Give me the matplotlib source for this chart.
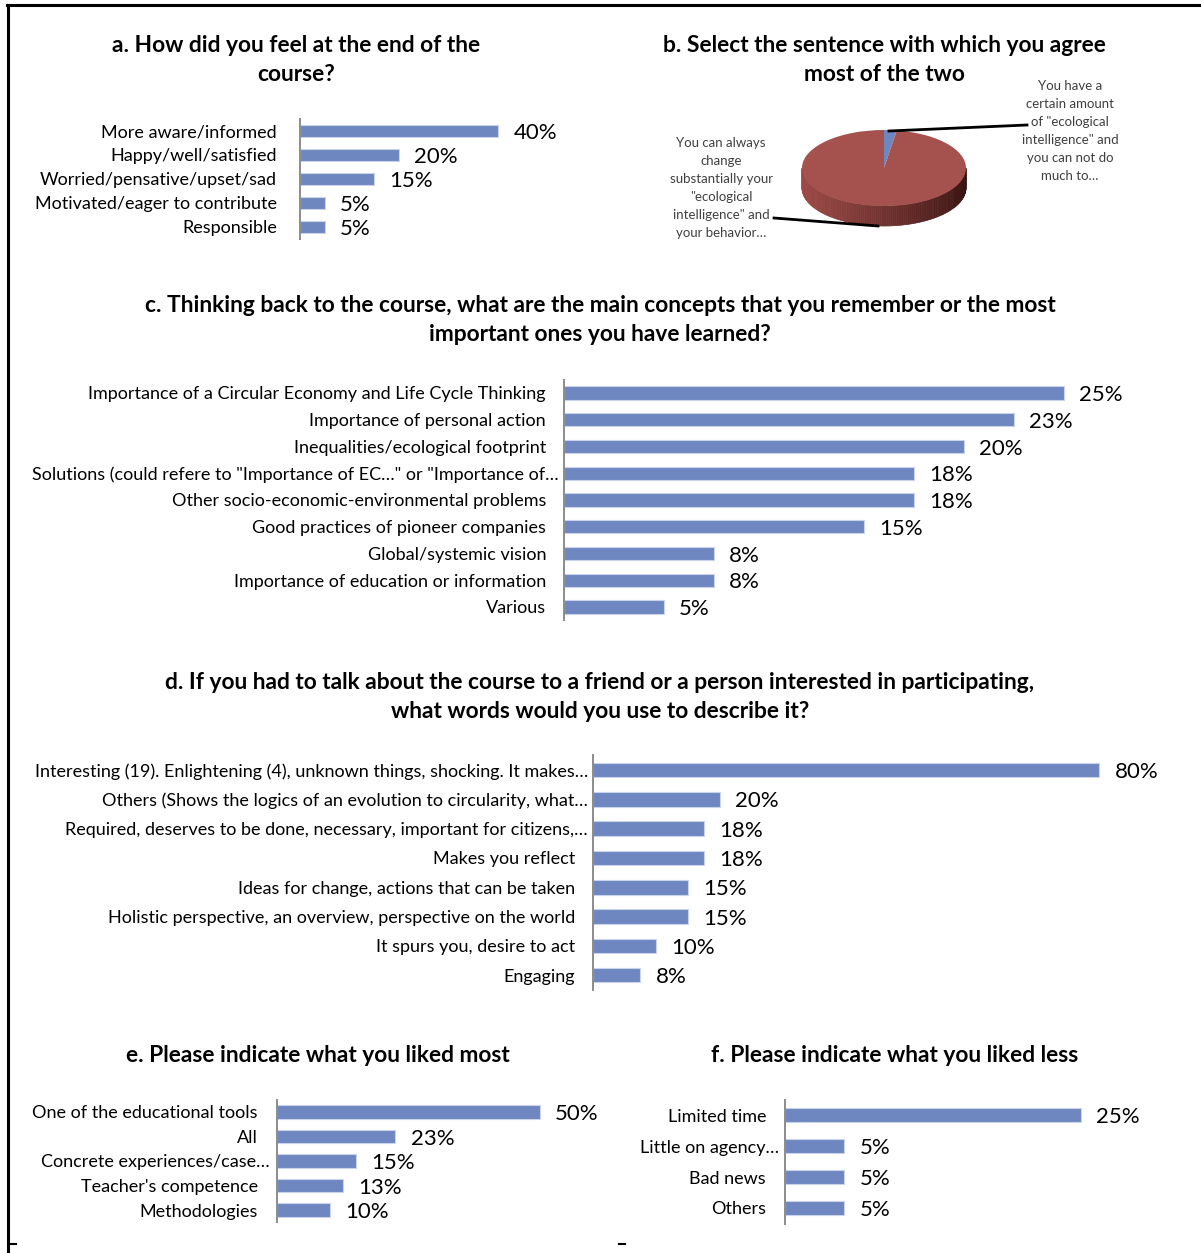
import numpy as np
import matplotlib
matplotlib.use("Agg")
import matplotlib.pyplot as plt
from matplotlib.transforms import Affine2D
from matplotlib.patches import Polygon
from matplotlib.lines import Line2D

W, H = 1201, 1253
plt.rcParams['font.family'] = ['Lato', 'DejaVu Sans']

BLUE = '#6f87c0'
EDGE = '#c9d3ec'
RED = '#a5524f'
AXIS = '#8c8c8c'

# --- a. feelings at the end of the course ---
feel_cats = ['More aware/informed', 'Happy/well/satisfied', 'Worried/pensative/upset/sad',
             'Motivated/eager to contribute', 'Responsible']
feel_vals = [40, 20, 15, 5, 5]
feel_labels = ['40%', '20%', '15%', '5%', '5%']

# --- b. sentence agreement (pie) ---
agree_cats = ['You have a\ncertain amount\nof "ecological\nintelligence" and\nyou can not do\nmuch to…',
              'You can always\nchange\nsubstantially your\n"ecological\nintelligence" and\nyour behavior…']
agree_vals = [2.5, 97.5]

# --- c. main concepts remembered ---
concept_cats = ['Importance of a Circular Economy and Life Cycle Thinking',
                'Importance of personal action',
                'Inequalities/ecological footprint',
                'Solutions (could refere to "Importance of EC…" or "Importance of…',
                'Other socio-economic-environmental problems',
                'Good practices of pioneer companies',
                'Global/systemic vision',
                'Importance of education or information',
                'Various']
concept_vals = [25, 22.5, 20, 17.5, 17.5, 15, 7.5, 7.5, 5]
concept_labels = ['25%', '23%', '20%', '18%', '18%', '15%', '8%', '8%', '5%']

# --- d. words to describe the course ---
words_cats = ['Interesting (19). Enlightening (4), unknown things, shocking. It makes…',
              'Others (Shows the logics of an evolution to circularity, what…',
              'Required, deserves to be done, necessary, important for citizens,…',
              'Makes you reflect',
              'Ideas for change, actions that can be taken',
              'Holistic perspective, an overview, perspective on the world',
              'It spurs you, desire to act',
              'Engaging']
words_vals = [80, 20, 17.5, 17.5, 15, 15, 10, 7.5]
words_labels = ['80%', '20%', '18%', '18%', '15%', '15%', '10%', '8%']

# --- e. liked most ---
most_cats = ['One of the educational tools', 'All', 'Concrete experiences/case…',
             "Teacher's competence", 'Methodologies']
most_vals = [50, 22.5, 15, 12.5, 10]
most_labels = ['50%', '23%', '15%', '13%', '10%']

# --- f. liked less ---
less_cats = ['Limited time', 'Little on agency…', 'Bad news', 'Others']
less_vals = [25, 5, 5, 5]
less_labels = ['25%', '5%', '5%', '5%']

fig = plt.figure(figsize=(W / 100, H / 100), dpi=100)


def px_axes(x0, y0, x1, y1):
    return fig.add_axes([x0 / W, 1 - y1 / H, (x1 - x0) / W, (y1 - y0) / H])


def title(x, y, s, size=16.4):
    fig.text(x / W, 1 - y / H, s, ha='center', va='center', fontsize=size,
             fontweight='bold', linespacing=1.5)


def bar_panel(cats, vals, labels, x0, top, step, x1, ppu, bar_frac=0.5,
              pad=17, short_pad=None, cat_fs=13, val_fs=16):
    n = len(cats)
    ax = px_axes(x0, top, x1, top + n * step)
    y = np.arange(n)
    ax.barh(y, vals, height=bar_frac, color=BLUE, edgecolor=EDGE, linewidth=0.8)
    ax.set_ylim(n - 0.5, -0.5)
    ax.set_xlim(0, (x1 - x0) / ppu)
    ax.set_yticks(y)
    ax.set_yticklabels(cats, fontsize=cat_fs)
    ax.tick_params(axis='y', length=0, pad=pad * 0.72)
    if short_pad is not None:
        for tick, lab in zip(ax.yaxis.get_major_ticks(), cats):
            if lab.endswith('…'):
                tick.set_pad(short_pad * 0.72)
    ax.set_xticks([])
    for s in ['top', 'right', 'bottom']:
        ax.spines[s].set_visible(False)
    ax.spines['left'].set_color(AXIS)
    ax.spines['left'].set_linewidth(1.4)
    for yi, v, lab in zip(y, vals, labels):
        ax.annotate(lab, (v, yi), xytext=(11, -1.5), textcoords='offset points',
                    ha='left', va='center', fontsize=val_fs)
    ax.patch.set_alpha(0)
    return ax


# a
title(296, 60, 'a. How did you feel at the end of the\ncourse?')
bar_panel(feel_cats, feel_vals, feel_labels, 300, 119, 24, 600, 4.95, pad=23)

# b - 3d style pie
title(884, 60, 'b. Select the sentence with which you agree\nmost of the two')
pax = px_axes(640, 60, 1200, 260)
cx, cy, rx, ry, depth = 884, 168, 82, 38, 20
t = np.linspace(0, np.pi, 121)
c_left = np.array([156, 74, 71]) / 255
c_right = np.array([56, 19, 17]) / 255
for i in range(len(t) - 1):
    xa, xb = cx + rx * np.cos(t[i]), cx + rx * np.cos(t[i + 1])
    ya, yb = cy + ry * np.sin(t[i]), cy + ry * np.sin(t[i + 1])
    f = (cx + rx - xa) / (2 * rx)
    col = c_right + (c_left - c_right) * f ** 0.8
    pax.add_patch(Polygon([(xa, ya), (xb, yb), (xb, yb + depth), (xa, ya + depth)],
                          closed=True, facecolor=col, edgecolor=col, lw=0.5, zorder=1))
wedges, _ = pax.pie(agree_vals, colors=[BLUE, RED], startangle=-90, counterclock=True,
                    radius=rx, center=(0, 0), wedgeprops=dict(linewidth=0))
for w in wedges:
    w.set_transform(Affine2D().scale(1, ry / rx).translate(cx, cy) + pax.transData)
    w.set_zorder(2)
pax.set_aspect('auto')
pax.set_xlim(640, 1200)
pax.set_ylim(260, 60)
pax.axis('off')
pax.plot([889, 1027], [131, 125], color='black', lw=2, zorder=3)
pax.plot([774, 878], [218, 226], color='black', lw=2, zorder=3)
pax.text(1070, 131, agree_cats[0], ha='center', va='center', fontsize=9.5,
         color='#404040', linespacing=1.6)
pax.text(721, 188, agree_cats[1], ha='center', va='center', fontsize=9.5,
         color='#404040', linespacing=1.6)

# c
title(600, 320, 'c. Thinking back to the course, what are the main concepts that you remember or the most\nimportant ones you have learned?')
bar_panel(concept_cats, concept_vals, concept_labels, 564, 379.6, 26.75, 1190, 20,
          pad=18, short_pad=5)

# d
title(600, 697, 'd. If you had to talk about the course to a friend or a person interested in participating,\nwhat words would you use to describe it?')
bar_panel(words_cats, words_vals, words_labels, 593, 755.4, 29.3, 1190, 6.33,
          pad=18, short_pad=5)

# e
title(318, 1055, 'e. Please indicate what you liked most')
bar_panel(most_cats, most_vals, most_labels, 277, 1099.75, 24.5, 620, 5.26,
          bar_frac=0.55, pad=19, short_pad=7)

# f
title(895, 1055, 'f. Please indicate what you liked less')
bar_panel(less_cats, less_vals, less_labels, 785, 1099.5, 31, 1190, 11.84,
          bar_frac=0.48, pad=19, short_pad=6)

# frame lines and small marks
fig.add_artist(Line2D([7 / W, 1], [1 - 5 / H, 1 - 5 / H], color='black', lw=2.2))
fig.add_artist(Line2D([8 / W, 8 / W], [1 - 5 / H, 0], color='black', lw=2.2))
fig.add_artist(Line2D([10 / W, 16 / W], [1 - 1244 / H, 1 - 1244 / H], color='black', lw=1.5))
fig.add_artist(Line2D([619 / W, 625 / W], [1 - 1244 / H, 1 - 1244 / H], color='black', lw=1.5))

fig.savefig('out.png', dpi=100)
